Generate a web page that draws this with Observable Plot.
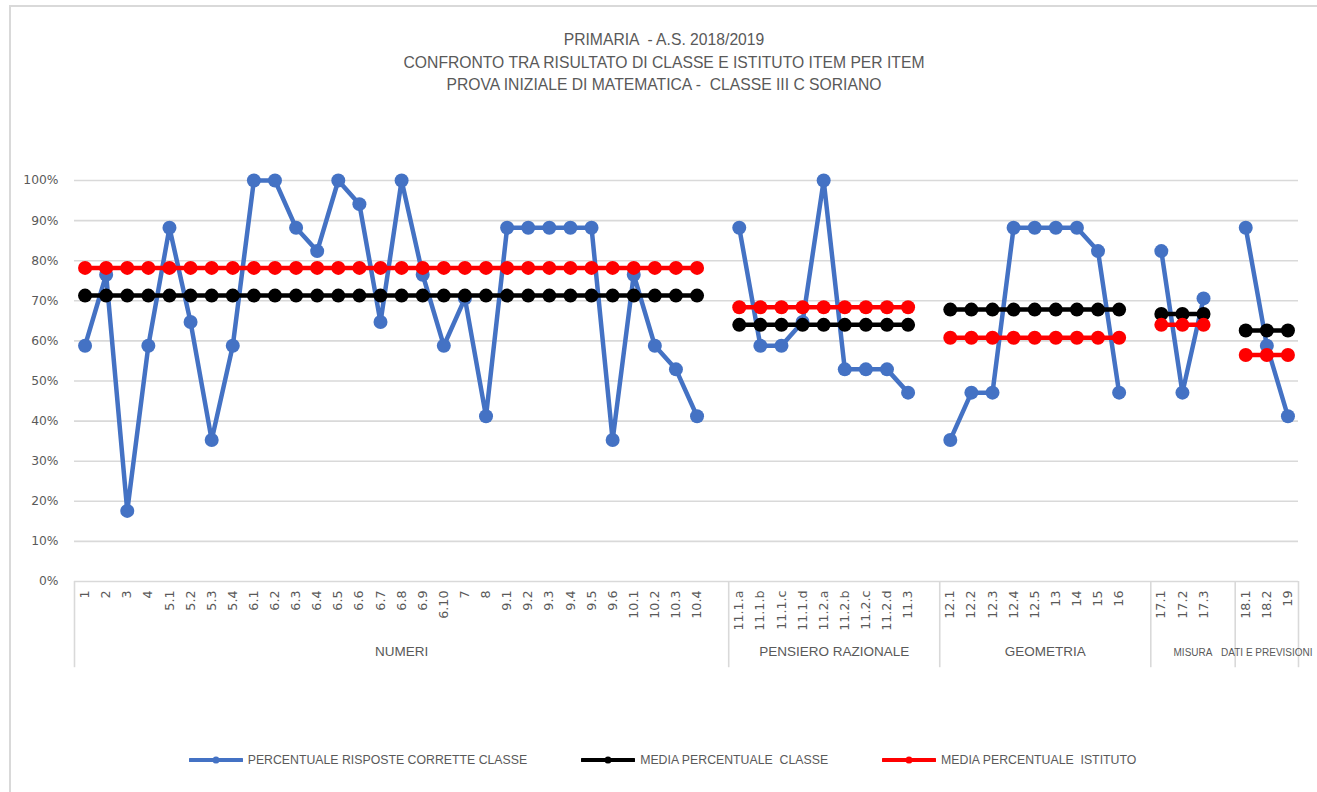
<!DOCTYPE html>
<html>
<head>
<meta charset="utf-8">
<script src="https://cdn.jsdelivr.net/npm/d3@7"></script>
<script src="https://cdn.jsdelivr.net/npm/@observablehq/plot@0.6"></script>
<style>
  body { margin: 0; background: #fff; }
  #wrap { position: relative; width: 1317px; height: 792px; overflow: hidden; background: #fff; }
  #border { position: absolute; left: 9px; top: 5px; width: 1400px; height: 900px;
            border-left: 2px solid #d9d9d9; border-top: 2px solid #d9d9d9; }
  #title { position: absolute; left: 0; top: 0; width: 1317px; height: 120px; box-sizing: border-box;
           padding-top: 29px; padding-left: 11px; text-align: center; color: #595959;
           font-family: "Liberation Sans", Arial, sans-serif; font-size: 15.7px; line-height: 22.5px; white-space: pre; }
  #chart { position: absolute; left: 0; top: 120px; }
  #legend { position: absolute; left: 0; top: 750px; width: 1317px; height: 20px; box-sizing: border-box;
            padding-left: 8px; display: flex; justify-content: center; gap: 54px; align-items: center;
            font-family: "Liberation Sans", Arial, sans-serif; font-size: 12.3px; color: #595959; white-space: pre; }
  .item { display: flex; align-items: center; gap: 5px; }
</style>
</head>
<body>
<div id="wrap">
  <div id="border"></div>
  <div id="title"></div>
  <div id="chart"></div>
  <div id="legend"></div>
</div>
<script>
// ---- data ----
const titleLines = [
  "PRIMARIA  - A.S. 2018/2019",
  "CONFRONTO TRA RISULTATO DI CLASSE E ISTITUTO ITEM PER ITEM",
  "PROVA INIZIALE DI MATEMATICA -  CLASSE III C SORIANO"
];
const groups = ["NUMERI", "PENSIERO RAZIONALE", "GEOMETRIA", "MISURA", "DATI E PREVISIONI"];
const groupSizes = [30, 9, 9, 3, 3];
const itemLabels = [
  "1","2","3","4","5.1","5.2","5.3","5.4","6.1","6.2","6.3","6.4","6.5","6.6","6.7","6.8","6.9","6.10","7","8",
  "9.1","9.2","9.3","9.4","9.5","9.6","10.1","10.2","10.3","10.4",
  "11.1.a","11.1.b","11.1.c","11.1.d","11.2.a","11.2.b","11.2.c","11.2.d","11.3",
  "12.1","12.2","12.3","12.4","12.5","13","14","15","16",
  "17.1","17.2","17.3",
  "18.1","18.2","19"
];
const classPct = [
  58.8, 76.5, 17.6, 58.8, 88.2, 64.7, 35.3, 58.8, 100, 100, 88.2, 82.4, 100, 94.1, 64.7, 100, 76.5, 58.8, 70.6, 41.2,
  88.2, 88.2, 88.2, 88.2, 88.2, 35.3, 76.5, 58.8, 52.9, 41.2,
  88.2, 58.8, 58.8, 64.7, 100, 52.9, 52.9, 52.9, 47.1,
  35.3, 47.1, 47.1, 88.2, 88.2, 88.2, 88.2, 82.4, 47.1,
  82.4, 47.1, 70.6,
  88.2, 58.8, 41.2
];
const classMean = [71.3, 64.0, 67.8, 66.7, 62.6];
const istitutoMean = [78.2, 68.4, 60.8, 64.0, 56.5];
const yTicks = [0, 10, 20, 30, 40, 50, 60, 70, 80, 90, 100];
const seriesNames = ["PERCENTUALE RISPOSTE CORRETTE CLASSE", "MEDIA PERCENTUALE  CLASSE", "MEDIA PERCENTUALE  ISTITUTO"];
const seriesColors = ["#4472C4", "#000000", "#FF0000"];

// ---- build rows (one empty category slot after each group but the last) ----
const rows = [];
const groupSpans = [];
let slot = 0, k = 0;
groups.forEach((g, gi) => {
  const start = slot;
  for (let j = 0; j < groupSizes[gi]; j++, k++, slot++) {
    rows.push({slot, label: itemLabels[k], group: g, pct: classPct[k], cm: classMean[gi], im: istitutoMean[gi]});
  }
  if (gi < groups.length - 1) slot++;
  const narrow = groupSizes[gi] < 5;
  groupSpans.push({group: g, x1: start - 0.5, x2: slot - 0.5, mid: (start + slot - 1) / 2, size: narrow ? 10 : 13.5});
});
const nSlots = slot;
const boundaries = [groupSpans[0].x1, ...groupSpans.map(d => d.x2)];

// ---- title ----
document.getElementById("title").textContent = titleLines.join("\n");

// ---- chart ----
const grid = "#d9d9d9";
const chart = Plot.plot({
  width: 1317,
  height: 580,
  marginLeft: 74,
  marginRight: 19,
  marginTop: 60,
  marginBottom: 119,
  style: {fontFamily: "'DejaVu Sans', sans-serif", fontSize: "12px", color: "#595959", background: "transparent", overflow: "visible"},
  x: {domain: [-0.5, nSlots - 0.5], axis: null},
  y: {domain: [0, 100], axis: null},
  marks: [
    Plot.ruleY(yTicks, {stroke: grid, strokeWidth: 1.6}),
    Plot.axisY({ticks: yTicks, tickFormat: d => d + "%", tickSize: 0, tickPadding: 16, fill: "#595959", fontSize: 12.3}),
    Plot.ruleX(boundaries, {y1: 0, y2: -21.5, stroke: grid, strokeWidth: 1.6}),
    Plot.text(rows, {x: "slot", text: "label", frameAnchor: "bottom", dy: 9, rotate: -90,
                     textAnchor: "end", lineAnchor: "middle", fill: "#595959", fontSize: 12.7}),
    Plot.text(groupSpans, {x: "mid", text: "group", frameAnchor: "bottom", dy: 74,
                     fill: "#595959", fontSize: "size", fontFamily: "'Liberation Sans', Arial, sans-serif"}),
    Plot.line(rows, {x: "slot", y: "pct", z: "group", stroke: seriesColors[0], strokeWidth: 4.5}),
    Plot.dot(rows, {x: "slot", y: "pct", r: 7, fill: seriesColors[0]}),
    Plot.line(rows, {x: "slot", y: "cm", z: "group", stroke: seriesColors[1], strokeWidth: 4.5}),
    Plot.dot(rows, {x: "slot", y: "cm", r: 7, fill: seriesColors[1]}),
    Plot.line(rows, {x: "slot", y: "im", z: "group", stroke: seriesColors[2], strokeWidth: 4.5}),
    Plot.dot(rows, {x: "slot", y: "im", r: 7, fill: seriesColors[2]})
  ]
});
document.getElementById("chart").appendChild(chart);

// ---- legend ----
const legend = document.getElementById("legend");
seriesNames.forEach((name, i) => {
  const item = document.createElement("div");
  item.className = "item";
  item.innerHTML = `<svg width="54" height="12"><line x1="1" y1="6" x2="53" y2="6" stroke="${seriesColors[i]}" stroke-width="4" stroke-linecap="round"/><circle cx="27" cy="6" r="3.5" fill="${seriesColors[i]}"/></svg><span>${name}</span>`;
  legend.appendChild(item);
});
</script>
</body>
</html>
